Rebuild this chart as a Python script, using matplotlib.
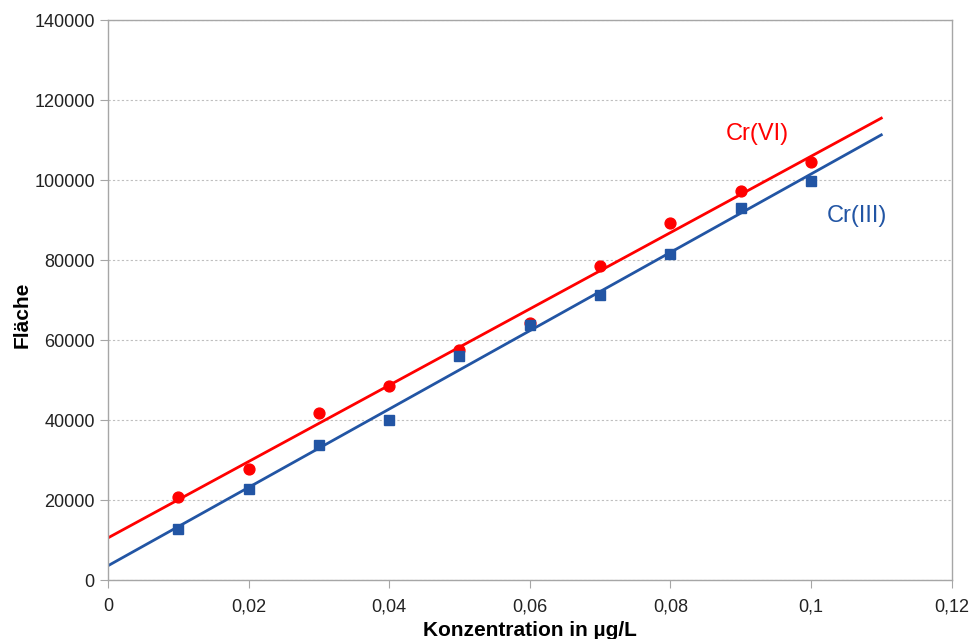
import matplotlib
matplotlib.use("Agg")
import matplotlib.pyplot as plt
from matplotlib.ticker import FuncFormatter, MultipleLocator
import numpy as np

plt.rcParams['font.family'] = ['Liberation Sans', 'DejaVu Sans']

# -------------------------
# DATA
# -------------------------

konz = [0.01, 0.02, 0.03, 0.04, 0.05, 0.06, 0.07, 0.08, 0.09, 0.10]
cr6 = [20800, 27750, 41750, 48500, 57500, 64300, 78400, 89200, 97300, 104500]
cr3 = [12660, 22700, 33700, 40100, 55900, 63800, 71200, 81500, 93000, 99700]
trend_x = [0.0, 0.11]

red = "#FF0000"
blue = "#2255A4"

# -------------------------
# PLOT
# -------------------------

fig = plt.figure(figsize=(9.73, 6.39), dpi=100)
ax = fig.add_axes([0.111, 0.0923, 0.867, 0.8764])

for y, col, mk, ms in [(cr6, red, "o", 7.8), (cr3, blue, "s", 7.8)]:
    k, d = np.polyfit(konz, y, 1)
    tx = np.array(trend_x)
    ax.plot(tx, k * tx + d, color=col, lw=2, zorder=2)
    ax.plot(konz, y, linestyle="none", marker=mk, ms=ms, color=col, zorder=3)

ax.text(0.0923, 111500, "Cr(VI)", color=red, fontsize=17, ha="center", va="center")
ax.text(0.1066, 91000, "Cr(III)", color=blue, fontsize=17, ha="center", va="center")

ax.set_xlim(0, 0.12)
ax.set_ylim(0, 140000)
ax.xaxis.set_major_locator(MultipleLocator(0.02))
ax.yaxis.set_major_locator(MultipleLocator(20000))
ax.xaxis.set_major_formatter(FuncFormatter(lambda v, p: f"{v:g}".replace(".", ",")))
ax.yaxis.set_major_formatter(FuncFormatter(lambda v, p: f"{v:.0f}"))

ax.grid(axis="y", color="#BFBFBF", linestyle=(0, (2, 2)), lw=0.8)
ax.set_axisbelow(True)
for s in ax.spines.values():
    s.set_color("#A6A6A6")
    s.set_linewidth(1)
ax.tick_params(direction="out", length=6, color="#A6A6A6", labelsize=13, labelcolor="#222222")
ax.tick_params(axis="x", pad=7)

ax.set_xlabel("Konzentration in µg/L", fontsize=15, fontweight="bold", labelpad=4)
ax.set_ylabel("Fläche", fontsize=15, fontweight="bold", labelpad=1.5)
ax.yaxis.set_label_coords(-0.09, 0.473)

plt.savefig("out.png", dpi=100)
